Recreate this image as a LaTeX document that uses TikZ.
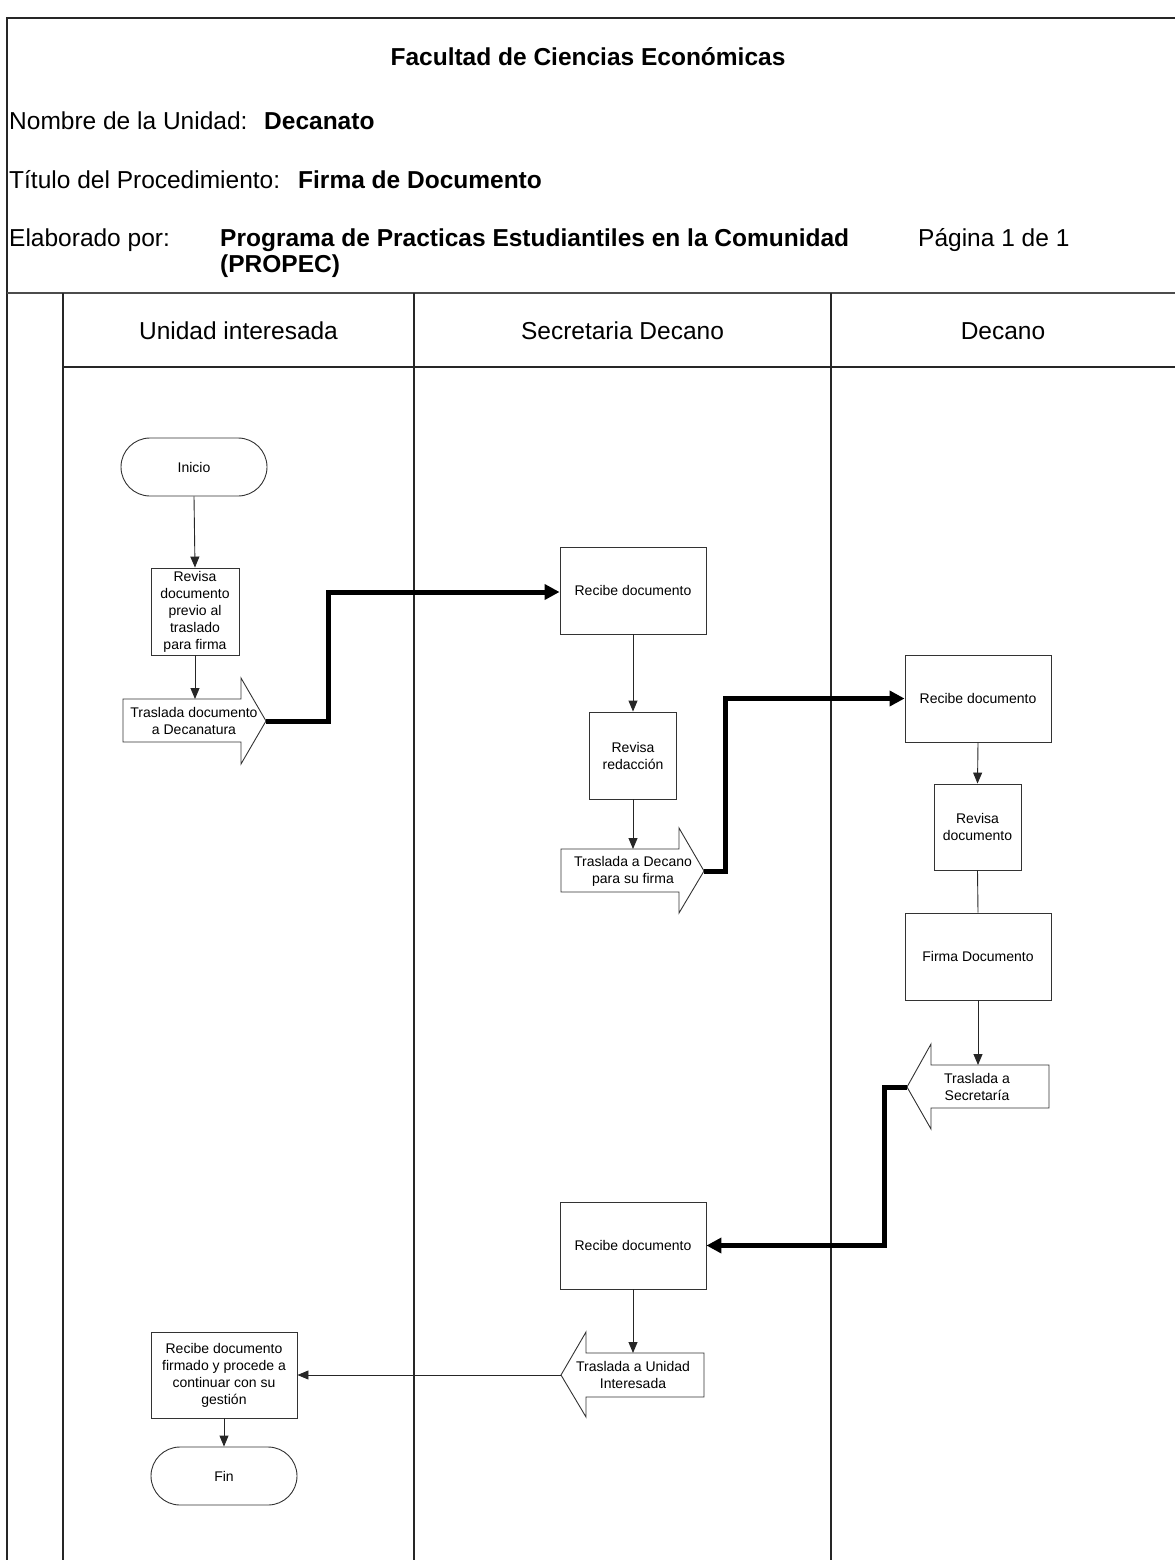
\documentclass[tikz,border=0pt]{standalone}
\usepackage{fontspec}
\setmainfont{Liberation Sans}
\usetikzlibrary{arrows.meta}
\begin{document}
\begin{tikzpicture}[x=1pt,y=-1pt,
  lane/.style={line width=1.3pt, draw=black!85},
  box/.style={draw=black!80, line width=0.9pt, fill=white, align=center, font=\fontsize{14}{17}\selectfont, inner sep=1pt},
  term/.style={box, rounded corners=29pt, minimum width=146pt, minimum height=58pt},
  shp/.style={draw=black!80, line width=0.9pt, fill=white, line join=miter},
  shptext/.style={align=center, font=\fontsize{14}{17}\selectfont, inner sep=0pt},
  flow/.style={draw=black!85, line width=0.9pt, -{Triangle[length=11pt,width=9pt]}},
  plain/.style={draw=black!85, line width=0.9pt},
  bigflow/.style={draw=black, line width=5pt, line join=miter, -{Triangle[length=15pt,width=15pt]}},
  hd/.style={font=\fontsize{24.5}{28}\selectfont, anchor=base west, inner sep=0pt},
  hdb/.style={font=\fontsize{24.5}{28}\selectfont\bfseries, anchor=base west, inner sep=0pt},
  lanehd/.style={font=\fontsize{24.5}{28}\selectfont, anchor=base, inner sep=0pt}
]
\useasboundingbox (0,0) rectangle (1175,1560);
% frame and lanes
\draw[lane] (7,1560) -- (7,18) -- (1175,18);
\draw[line width=2.5pt, draw=black!70] (7,293) -- (1175,293);
\draw[lane] (63,293) -- (63,1560);
\draw[lane] (414,293) -- (414,1560);
\draw[lane] (831,293) -- (831,1560);
\draw[lane] (63,367) -- (1175,367);
% header texts
\node[hdb, anchor=base] (title) at (588,66) {Facultad de Ciencias Económicas};
\node[hd] (nom) at (9,130) {Nombre de la Unidad:};
\node[hdb] (nomv) at (264,130) {Decanato};
\node[hd] (tit) at (9,188) {Título del Procedimiento:};
\node[hdb] (titv) at (298,188) {Firma de Documento};
\node[hd] (ela) at (9,246) {Elaborado por:};
\node[hdb] (elav) at (220,246) {Programa de Practicas Estudiantiles en la Comunidad};
\node[hdb] (elav2) at (220,272) {(PROPEC)};
\node[hd] (pag) at (918,246) {Página 1 de 1};
% lane headers
\node[lanehd] (l1) at (238.5,339) {Unidad interesada};
\node[lanehd] (l2) at (622.5,339) {Secretaria Decano};
\node[lanehd] (l3) at (1003,339) {Decano};
% nodes
\node[term] (ini) at (194,467) {Inicio};
\node[box, minimum width=88pt, minimum height=87pt] (rev1) at (195,611.5) {Revisa\\documento\\previo al\\traslado\\para firma};
\node[box, minimum width=146pt, minimum height=87pt] (rec1) at (633,590.5) {Recibe documento};
\node[box, minimum width=87pt, minimum height=87pt] (rev2) at (633,755.5) {Revisa\\redacción};
\node[box, minimum width=146pt, minimum height=87pt] (rec2) at (978,698.5) {Recibe documento};
\node[box, minimum width=87pt, minimum height=86pt] (rev3) at (977.5,827) {Revisa\\documento};
\node[box, minimum width=146pt, minimum height=87pt] (firma) at (978,956.5) {Firma Documento};
\node[box, minimum width=146pt, minimum height=87pt] (rec3) at (633,1245.5) {Recibe documento};
\node[box, minimum width=146pt, minimum height=86pt] (final) at (224,1375) {Recibe documento\\firmado y procede a\\continuar con su\\gestión};
\node[term] (fin) at (224,1476) {Fin};
% arrow shapes
\draw[shp] (123,699) -- (241,699) -- (241,678) -- (266,721) -- (241,764) -- (241,742) -- (123,742) -- cycle;
\node[shptext] (a1) at (194,721) {Traslada documento\\a Decanatura};
\coordinate (a1top) at (195,699);
\coordinate (a1tip) at (266,721);
\draw[shp] (561,849) -- (679,849) -- (679,828) -- (704,871) -- (679,913) -- (679,892) -- (561,892) -- cycle;
\node[shptext] (a2) at (633,871) {Traslada a Decano\\para su firma};
\coordinate (a2top) at (633,849);
\coordinate (a2tip) at (704,871);
\draw[shp] (1049,1065) -- (931,1065) -- (931,1044) -- (907,1087) -- (931,1129) -- (931,1108) -- (1049,1108) -- cycle;
\node[shptext] (a3) at (977,1087) {Traslada a\\Secretaría};
\coordinate (a3top) at (978,1065);
\coordinate (a3tip) at (907,1087);
\draw[shp] (704,1353) -- (586,1353) -- (586,1332) -- (561,1375) -- (586,1417) -- (586,1397) -- (704,1397) -- cycle;
\node[shptext] (a4) at (633,1375) {Traslada a Unidad\\Interesada};
\coordinate (a4top) at (633,1353);
\coordinate (a4tip) at (561,1375);
% connectors
\draw[flow] (ini.south) -- (rev1.north);
\draw[flow] (rev1.south) -- (a1top);
\draw[bigflow] (a1tip) -- (328,721) -- (328,592) -- (rec1.west |- 0,592);
\draw[flow] (rec1.south) -- (rev2.north);
\draw[flow] (rev2.south) -- (a2top);
\draw[bigflow] (a2tip) -- (725,871) -- (725,698.5) -- (rec2.west);
\draw[flow] (rec2.south) -- (rev3.north);
\draw[plain] (rev3.south) -- (firma.north);
\draw[flow] (firma.south) -- (a3top);
\draw[bigflow] (a3tip) -- (884,1087) -- (884,1245.5) -- (rec3.east);
\draw[flow] (rec3.south) -- (a4top);
\draw[flow] (a4tip) -- (final.east);
\draw[flow] (final.south) -- (fin.north);
\end{tikzpicture}
\end{document}
